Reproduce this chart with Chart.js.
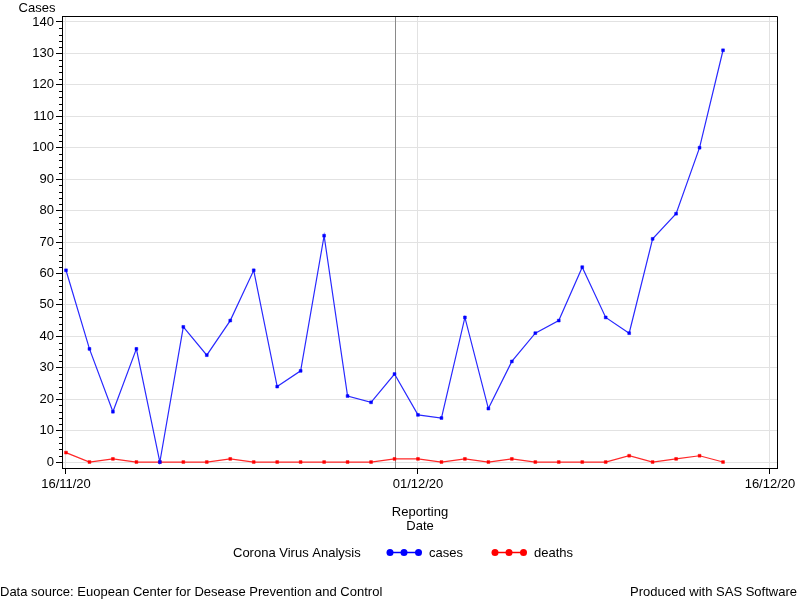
<!DOCTYPE html>
<html>
<head>
<meta charset="utf-8">
<title>Corona Virus Analysis</title>
<script src="https://cdn.jsdelivr.net/npm/chart.js@4"></script>
<style>
  html, body { margin: 0; padding: 0; background: #fff; }
  #wrap { width: 800px; height: 600px; position: relative; }
</style>
</head>
<body>
<div id="wrap"><canvas id="covidChart" width="800" height="600"></canvas></div>
<script>
// ---- Data ----
const dates = [
  "16/11/20", "17/11/20", "18/11/20", "19/11/20", "20/11/20", "21/11/20",
  "22/11/20", "23/11/20", "24/11/20", "25/11/20", "26/11/20", "27/11/20",
  "28/11/20", "29/11/20", "30/11/20", "01/12/20", "02/12/20", "03/12/20",
  "04/12/20", "05/12/20", "06/12/20", "07/12/20", "08/12/20", "09/12/20",
  "10/12/20", "11/12/20", "12/12/20", "13/12/20", "14/12/20"
];
const cases = [61, 36, 16, 36, 0, 43, 34, 45, 61, 24, 29, 72, 21, 19, 28,
  15, 14, 46, 17, 32, 41, 45, 62, 46, 41, 71, 79, 100, 131];
const deaths = [3, 0, 1, 0, 0, 0, 0, 1, 0, 0, 0, 0, 0, 0, 1,
  1, 0, 1, 0, 1, 0, 0, 0, 0, 2, 0, 1, 2, 0];

const xTickDays = [0, 15, 30];
const xTickLabels = ["16/11/20", "01/12/20", "16/12/20"];
const yTicks = [0, 10, 20, 30, 40, 50, 60, 70, 80, 90, 100, 110, 120, 130, 140];
const refDate = "30/11/20";

const FONT = "'Liberation Sans', Arial, sans-serif";
const FSIZE = 13;

// ---- Extra drawing: frame, reference line, minor ticks, titles, legend ----
const sasDecor = {
  id: "sasDecor",
  beforeDatasetsDraw(chart) {
    const { ctx, chartArea: a, scales } = chart;
    const xr = Math.round(scales.x.getPixelForValue(dates.indexOf(refDate))) + 0.5;
    ctx.save();
    ctx.strokeStyle = "#8a8a8a";
    ctx.lineWidth = 1;
    ctx.beginPath();
    ctx.moveTo(xr, a.top);
    ctx.lineTo(xr, a.bottom);
    ctx.stroke();
    ctx.restore();
  },
  afterDraw(chart) {
    const { ctx, chartArea: a, scales } = chart;
    ctx.save();
    // top and right frame
    ctx.strokeStyle = "#000";
    ctx.lineWidth = 1;
    ctx.beginPath();
    ctx.moveTo(a.left, a.top + 0.5);
    ctx.lineTo(a.right + 0.5, a.top + 0.5);
    ctx.lineTo(a.right + 0.5, a.bottom);
    ctx.stroke();

    // minor ticks on y axis
    ctx.beginPath();
    for (let v = 2; v < 140; v += 2) {
      if (v % 10 === 0) continue;
      const y = Math.round(scales.y.getPixelForValue(v)) + 0.5;
      ctx.moveTo(a.left - 3, y);
      ctx.lineTo(a.left, y);
    }
    ctx.stroke();

    ctx.fillStyle = "#000";
    ctx.font = FSIZE + "px " + FONT;
    ctx.textBaseline = "middle";

    // y axis title
    ctx.textAlign = "center";
    ctx.fillText("Cases", 37, 8);

    // x axis title
    const xc = (a.left + a.right) / 2 + 0.5;
    ctx.fillText("Reporting", xc, 512);
    ctx.fillText("Date", xc, 526);

    // legend
    ctx.textAlign = "left";
    ctx.fillText("Corona Virus Analysis", 233, 553);
    const items = chart.data.datasets.map((ds) => ({ label: ds.label, color: ds.pointBackgroundColor }));
    const starts = [390, 495];
    items.forEach((it, i) => {
      const x0 = starts[i];
      ctx.strokeStyle = it.color;
      ctx.fillStyle = it.color;
      ctx.lineWidth = 1.5;
      ctx.beginPath();
      ctx.moveTo(x0, 552.5);
      ctx.lineTo(x0 + 28.5, 552.5);
      ctx.stroke();
      [0, 14, 28.5].forEach((dx) => {
        ctx.beginPath();
        ctx.arc(x0 + dx, 552.5, 3.5, 0, Math.PI * 2);
        ctx.fill();
      });
      ctx.fillStyle = "#000";
      ctx.fillText(it.label, x0 + 39, 553);
    });

    // footnotes
    ctx.fillText("Data source: Euopean Center for Desease Prevention and Control", 0, 592);
    ctx.textAlign = "right";
    ctx.fillText("Produced with SAS Software", 797, 592);
    ctx.restore();
  }
};

// ---- Chart ----
function initChart() {
  const ctx = document.getElementById("covidChart");

  const chart = new Chart(ctx, {
    type: "line",
    data: {
      datasets: [
        {
          label: "cases",
          data: cases.map((v, i) => ({ x: i, y: v })),
          borderColor: "#2828ff",
          borderWidth: 1.2,
          pointStyle: "rect",
          pointRadius: 2,
          pointBorderWidth: 0.5,
          pointBackgroundColor: "#0000ff",
          pointBorderColor: "#0000ff",
          tension: 0,
          fill: false,
        },
        {
          label: "deaths",
          data: deaths.map((v, i) => ({ x: i, y: v })),
          borderColor: "#ff2828",
          borderWidth: 1.2,
          pointStyle: "rect",
          pointRadius: 2,
          pointBorderWidth: 0.5,
          pointBackgroundColor: "#ff0000",
          pointBorderColor: "#ff0000",
          tension: 0,
          fill: false,
        },
      ],
    },
    options: {
      responsive: false,
      animation: false,
      devicePixelRatio: 1,
      layout: { padding: { top: 16, right: 23, bottom: 0, left: 0 } },
      plugins: {
        legend: { display: false },
        tooltip: { enabled: false },
      },
      scales: {
        x: {
          type: "linear",
          min: -0.17,
          max: 30.3,
          afterBuildTicks: (scale) => {
            scale.ticks = xTickDays.map((v) => ({ value: v }));
          },
          afterFit: (scale) => {
            scale.height = 132;
          },
          ticks: {
            autoSkip: false,
            maxRotation: 0,
            padding: 3,
            color: "#000",
            font: { family: FONT, size: FSIZE },
            callback: (v) => xTickLabels[xTickDays.indexOf(v)],
          },
          grid: {
            color: "#e2e2e2",
            tickColor: "#000",
            tickLength: 6,
          },
          border: { color: "#000", width: 1 },
        },
        y: {
          min: -1.9,
          max: 141.9,
          afterBuildTicks: (scale) => {
            scale.ticks = yTicks.map((v) => ({ value: v }));
          },
          afterFit: (scale) => {
            scale.width = 62;
          },
          ticks: {
            padding: 2,
            color: "#000",
            font: { family: FONT, size: FSIZE },
          },
          grid: {
            color: "#e2e2e2",
            tickColor: "#000",
            tickLength: 6,
          },
          border: { color: "#000", width: 1 },
        },
      },
    },
    plugins: [sasDecor],
  });

  return chart;
}

initChart();
</script>
</body>
</html>
